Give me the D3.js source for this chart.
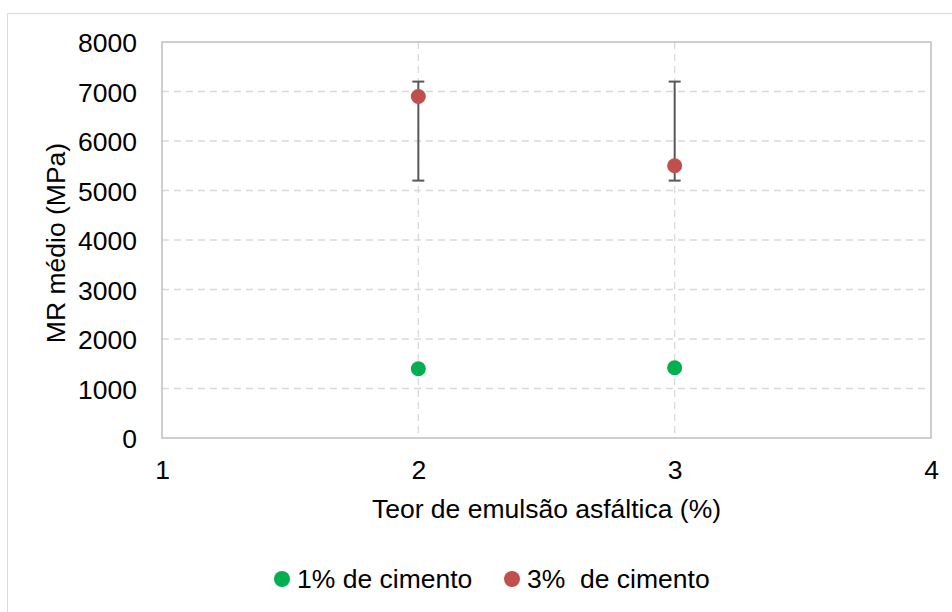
<!DOCTYPE html>
<html>
<head>
<meta charset="utf-8">
<script src="https://cdn.jsdelivr.net/npm/d3@7"></script>
<style>
  html, body { margin: 0; padding: 0; background: #fff; }
  svg { display: block; font-family: "Liberation Sans", Arial, sans-serif; }
</style>
</head>
<body>
<svg id="chart" width="952" height="612"></svg>
<script>
// Emulsion content (%) on the x axis
const emulsao = [2, 3];
// Mean resilient modulus (MPa) per cement content
const mr1 = [1400, 1420];
const mr3 = [6900, 5500];
// Error bar limits for the 3% cement series
const mr3Max = [7200, 7200];
const mr3Min = [5200, 5200];
// Axis ticks
const xTicks = [1, 2, 3, 4];
const yTicks = [0, 1000, 2000, 3000, 4000, 5000, 6000, 7000, 8000];
const seriesNames = ["1% de cimento", "3%  de cimento"];
const seriesColors = ["#00b050", "#c0504d"];

const FONT = 26.5;
const svg = d3.select("#chart");
const m = { left: 162, right: 931, top: 42, bottom: 438 };

const x = d3.scaleLinear().domain([1, 4]).range([m.left, m.right]);
const y = d3.scaleLinear().domain([0, 8000]).range([m.bottom, m.top]);

// chart frame
svg.append("rect")
  .attr("x", 7.5).attr("y", 13.5).attr("width", 960).attr("height", 620)
  .attr("fill", "none").attr("stroke", "#d9d9d9").attr("stroke-width", 1);

// horizontal grid
svg.append("g").selectAll("line")
  .data(yTicks.filter(d => d > 0 && d < 8000))
  .join("line")
  .attr("x1", m.left).attr("x2", m.right)
  .attr("y1", d => y(d)).attr("y2", d => y(d))
  .attr("stroke", "#d9d9d9").attr("stroke-width", 1.3)
  .attr("stroke-dasharray", "7,5");

// vertical grid
svg.append("g").selectAll("line")
  .data(xTicks.filter(d => d > 1 && d < 4))
  .join("line")
  .attr("x1", d => x(d)).attr("x2", d => x(d))
  .attr("y1", m.top).attr("y2", m.bottom)
  .attr("stroke", "#d9d9d9").attr("stroke-width", 1.3)
  .attr("stroke-dasharray", "7,5");

// plot area border
svg.append("rect")
  .attr("x", m.left).attr("y", m.top)
  .attr("width", m.right - m.left).attr("height", m.bottom - m.top)
  .attr("fill", "none").attr("stroke", "#bfbfbf").attr("stroke-width", 1.5);

// axes (labels only)
const yAxis = svg.append("g")
  .attr("transform", `translate(${m.left - 25},0)`)
  .call(d3.axisLeft(y).tickValues(yTicks).tickSize(0).tickPadding(0).tickFormat(d3.format("d")));
yAxis.select(".domain").remove();
yAxis.selectAll("text").attr("font-size", FONT).attr("fill", "#000").attr("dy", "0.36em")
  .attr("font-family", "Liberation Sans, Arial, sans-serif");

const xAxis = svg.append("g")
  .attr("transform", `translate(0,${m.bottom})`)
  .call(d3.axisBottom(x).tickValues(xTicks).tickSize(0).tickPadding(0).tickFormat(d3.format("d")));
xAxis.select(".domain").remove();
xAxis.selectAll("text").attr("font-size", FONT).attr("fill", "#000")
  .attr("y", 41).attr("dy", null)
  .attr("font-family", "Liberation Sans, Arial, sans-serif");

// axis titles
svg.append("text")
  .attr("x", (m.left + m.right) / 2).attr("y", 518)
  .attr("text-anchor", "middle").attr("font-size", FONT).attr("fill", "#000")
  .text("Teor de emulsão asfáltica (%)");

svg.append("text")
  .attr("transform", `translate(65,${(m.top + m.bottom) / 2 + 3}) rotate(-90)`)
  .attr("text-anchor", "middle").attr("font-size", FONT).attr("fill", "#000")
  .text("MR médio (MPa)");

// error bars for 3% cement
const eb = svg.append("g").attr("stroke", "#595959").attr("stroke-width", 2);
emulsao.forEach((e, i) => {
  eb.append("line").attr("x1", x(e)).attr("x2", x(e)).attr("y1", y(mr3Max[i])).attr("y2", y(mr3Min[i]));
  [mr3Max[i], mr3Min[i]].forEach(v => {
    eb.append("line").attr("x1", x(e) - 6).attr("x2", x(e) + 6).attr("y1", y(v)).attr("y2", y(v));
  });
});

// points
[mr1, mr3].forEach((vals, s) => {
  svg.append("g").selectAll("circle")
    .data(vals)
    .join("circle")
    .attr("cx", (d, i) => x(emulsao[i]))
    .attr("cy", d => y(d))
    .attr("r", 7.5)
    .attr("fill", seriesColors[s]);
});

// legend
const legendX = [282, 512];
seriesNames.forEach((name, s) => {
  const g = svg.append("g").attr("transform", `translate(${legendX[s]},579)`);
  g.append("circle").attr("r", 8).attr("fill", seriesColors[s]);
  g.append("text").attr("x", 15).attr("y", 9).attr("font-size", FONT).attr("fill", "#000")
    .attr("xml:space", "preserve").style("white-space", "pre").text(name);
});
</script>
</body>
</html>
